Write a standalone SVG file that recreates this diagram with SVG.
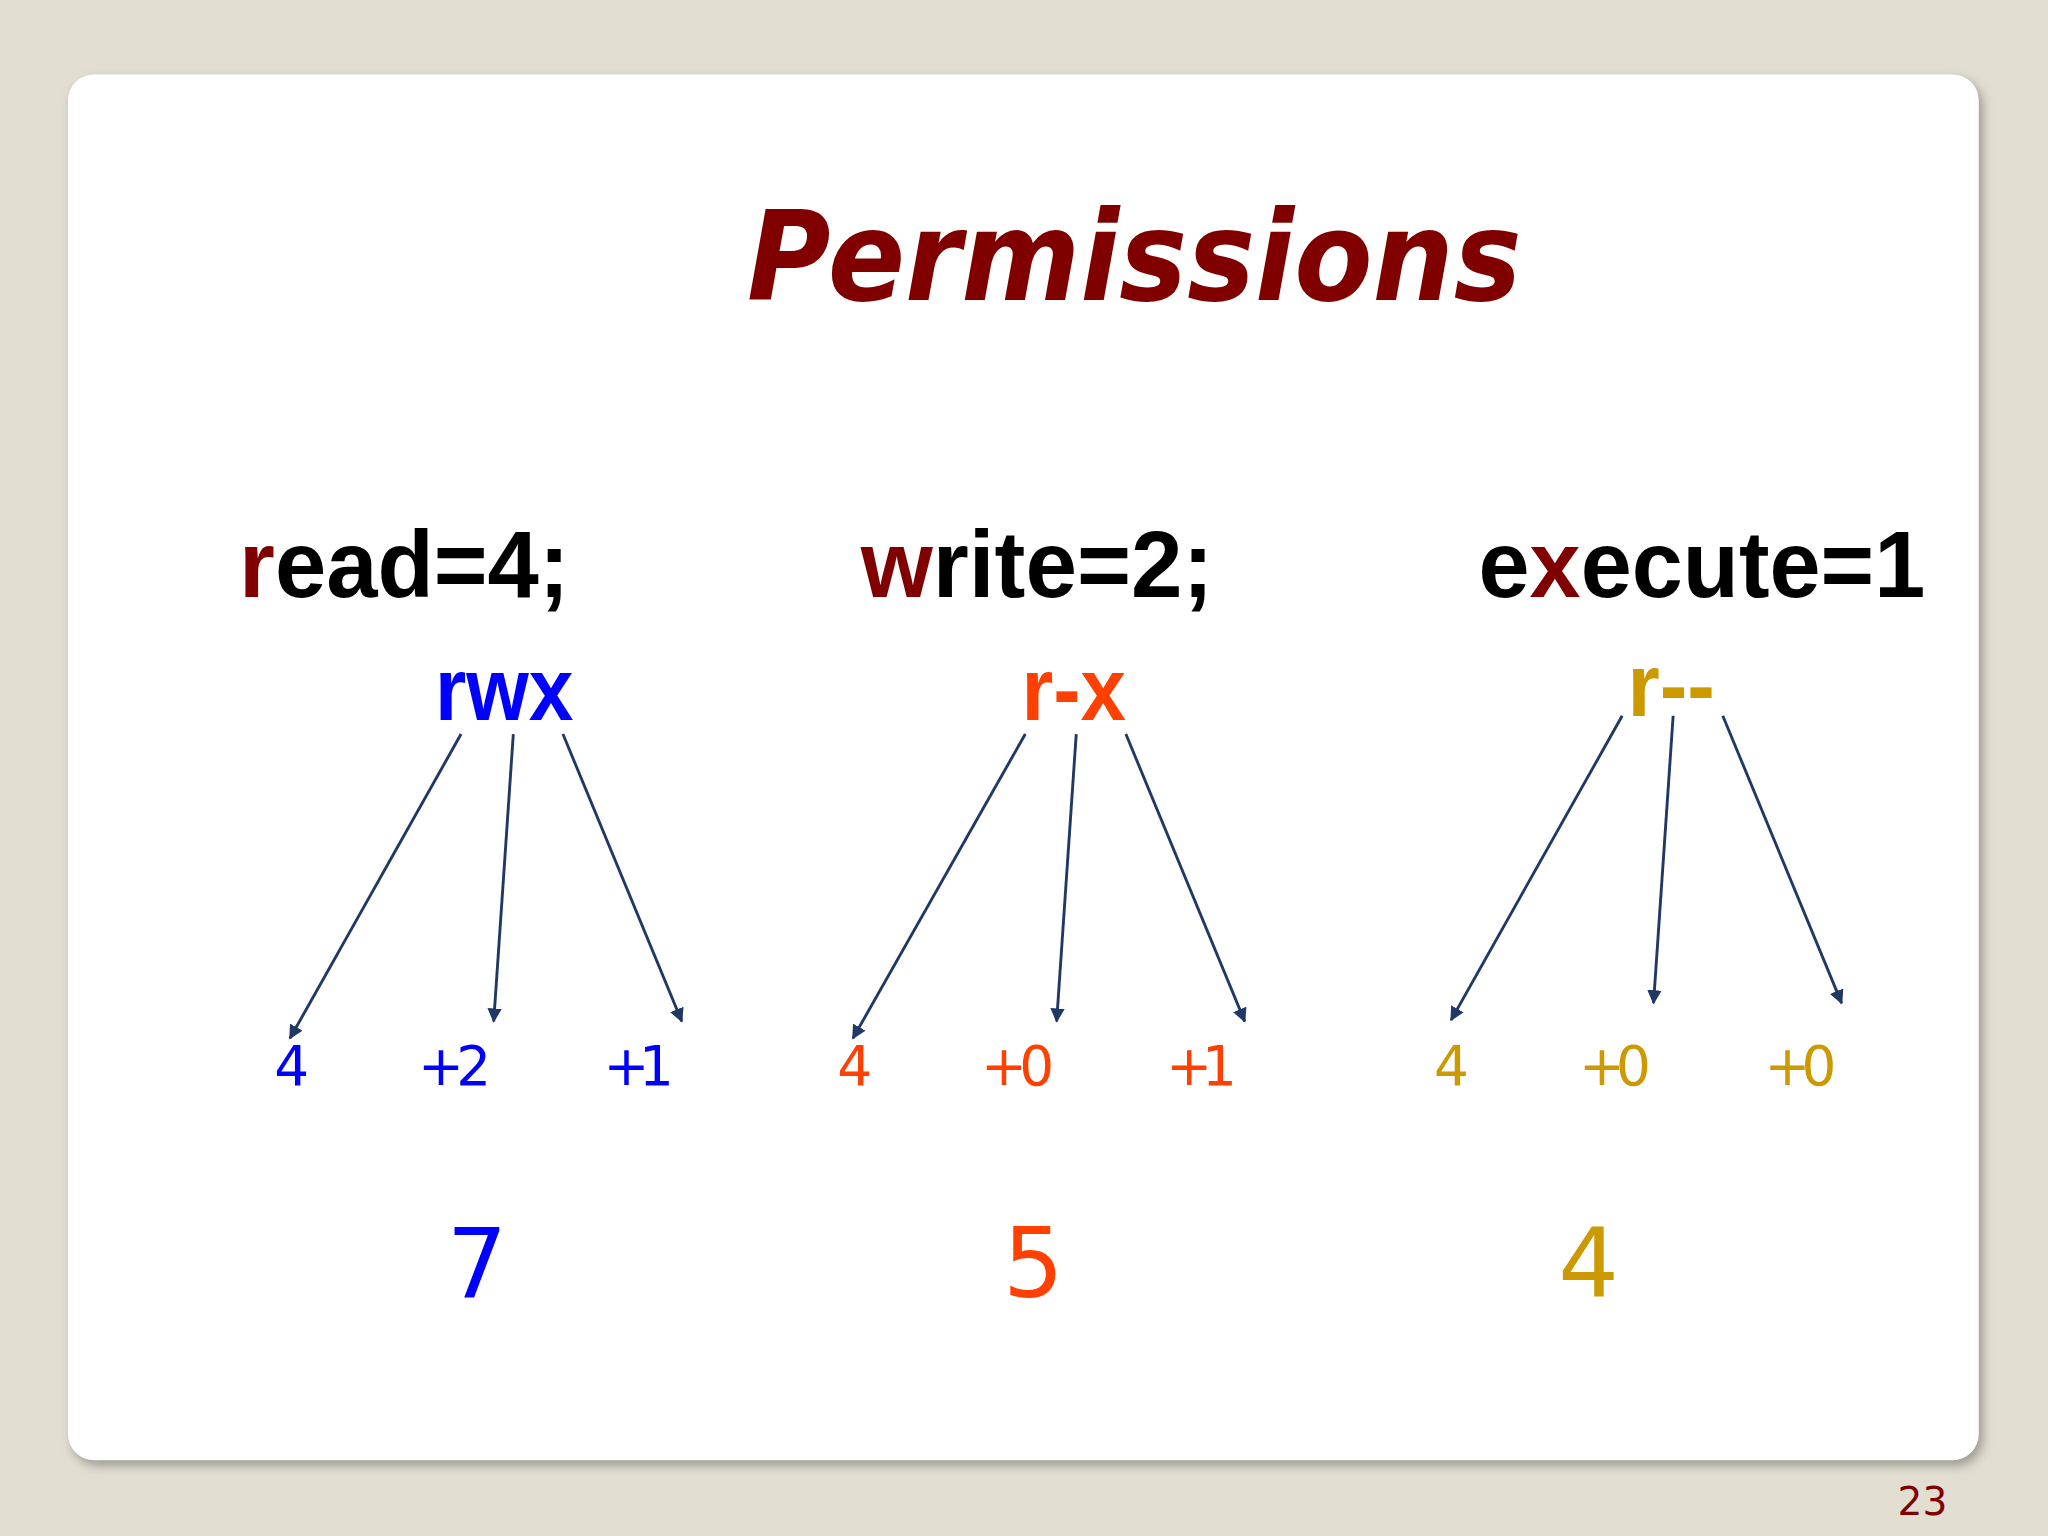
<svg xmlns="http://www.w3.org/2000/svg" width="2048" height="1536" viewBox="0 0 2048 1536">
<defs>
<style>
.ti{font-family:"DejaVu Sans",Verdana,sans-serif;font-weight:bold;font-style:italic;fill:#800000}
.h{font-family:"Liberation Sans",Arial,sans-serif;font-weight:bold;fill:#000}
.r{fill:#800000}
.n{font-family:"DejaVu Sans",Verdana,sans-serif}
.b{fill:#0000ff}.o{fill:#ff4000}.y{fill:#cc9900}
.c line{stroke:#1f3864;stroke-width:2.2;marker-end:url(#a)}
</style>
<marker id="a" viewBox="0 0 10 10" refX="9" refY="5" markerWidth="5" markerHeight="5" orient="auto"><path d="M0,0L10,5L0,10z" fill="#1f3864"/></marker>
<filter id="s" x="-5%" y="-5%" width="110%" height="110%"><feGaussianBlur stdDeviation="4"/></filter>
</defs>
<rect width="2048" height="1536" fill="#e2dfd2"/>
<g transform="scale(1.30612)">
<rect x="55" y="61" width="1463" height="1061" rx="20" fill="#9a9890" filter="url(#s)"/>
<rect x="52" y="57" width="1463" height="1061" rx="20" fill="#fff"/>
<g id="title"><text class="ti" x="572" y="230" font-size="96" textLength="593" lengthAdjust="spacingAndGlyphs">Permissions</text></g>
<g id="read"><text class="h" x="183" y="457" font-size="73" textLength="253" lengthAdjust="spacingAndGlyphs"><tspan class="r">r</tspan>ead=4;</text></g>
<g id="write"><text class="h" x="659" y="457" font-size="73" textLength="270" lengthAdjust="spacingAndGlyphs"><tspan class="r">w</tspan>rite=2;</text></g>
<g id="execute"><text class="h" x="1132" y="457" font-size="73" textLength="342" lengthAdjust="spacingAndGlyphs">e<tspan class="r">x</tspan>ecute=1</text></g>
<g id="rwx"><text class="h b" x="333" y="551" font-size="68" textLength="106" lengthAdjust="spacingAndGlyphs">rwx</text></g>
<g id="rx"><text class="h o" x="782" y="551" font-size="68" textLength="80" lengthAdjust="spacingAndGlyphs">r-x</text></g>
<g id="r"><text class="h y" x="1246" y="548" font-size="68" textLength="67" lengthAdjust="spacingAndGlyphs">r--</text></g>
<g class="c" id="connectors">
<line x1="353" y1="562" x2="222" y2="795"/><line x1="393" y1="562" x2="378" y2="782"/><line x1="431" y1="562" x2="522" y2="782"/>
<line x1="785" y1="562" x2="653" y2="795"/><line x1="824" y1="562" x2="809" y2="782"/><line x1="862" y1="562" x2="953" y2="782"/>
<line x1="1242" y1="548" x2="1111" y2="781"/><line x1="1281" y1="548" x2="1266" y2="768"/><line x1="1319" y1="548" x2="1410" y2="768"/>
</g>
<g id="vals" class="n" font-size="42">
<text class="b" x="210" y="831">4</text><text class="b" x="320" y="831" textLength="56">+2</text><text class="b" x="462" y="831" textLength="54">+1</text>
<text class="o" x="641" y="831">4</text><text class="o" x="751" y="831" textLength="56">+0</text><text class="o" x="893" y="831" textLength="54">+1</text>
<text class="y" x="1098" y="831">4</text><text class="y" x="1209" y="831" textLength="55">+0</text><text class="y" x="1351" y="831" textLength="55">+0</text>
</g>
<g id="totals" class="n" font-size="73">
<text class="b" x="342" y="993">7</text><text class="o" x="768" y="993">5</text><text class="y" x="1193" y="993">4</text>
</g>
<text class="n" x="1491" y="1160" font-size="30" fill="#800000" text-anchor="end">23</text>
</g>
</svg>
